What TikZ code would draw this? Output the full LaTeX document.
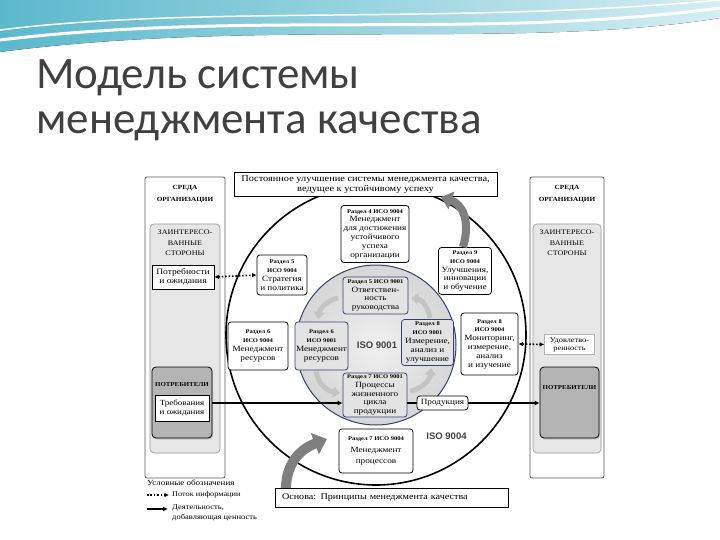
\documentclass[tikz,border=0pt]{standalone}
\usepackage{fontspec}
\setmainfont[FakeStretch=1.15]{Liberation Serif}
\newfontfamily\titlefont{Carlito}
\newfontfamily\isofont{Liberation Sans}
\usetikzlibrary{arrows.meta,shadows}
\definecolor{titlegray}{HTML}{404040}
\definecolor{navyline}{HTML}{36406A}
\definecolor{tealtop}{HTML}{5BB8CC}
\definecolor{teallight}{HTML}{D5EEF3}
\definecolor{colgray}{HTML}{E6E6E6}
\definecolor{consgray}{HTML}{B4B4B4}
\definecolor{cyclegray}{HTML}{C4C4C4}
\definecolor{biggray}{HTML}{7F7F7F}
\newcommand\hd[1]{{\fontsize{5.7}{7}\selectfont\bfseries #1}}
\begin{document}
\begin{tikzpicture}[x=1pt,y=-1pt,
  txt/.style={font=\fontsize{8}{8.8}\selectfont, align=center, inner sep=1pt},
  wbox/.style={txt, draw=black, line width=0.8pt, fill=white, rounded corners=3pt},
  gbox/.style={txt, draw=navyline, line width=0.8pt, fill=gray!22, rounded corners=3pt},
  colbox/.style={draw=gray!70!black, line width=0.8pt, fill=white, rounded corners=2pt},
  stakebox/.style={draw=gray!80, line width=0.6pt, fill=colgray, rounded corners=4pt},
  consbox/.style={draw=black, line width=0.8pt, fill=consgray, rounded corners=4pt,
     drop shadow={shadow xshift=1pt, shadow yshift=-1.5pt, fill=gray!70}},
  hdr/.style={font=\fontsize{6.3}{12}\selectfont\bfseries, align=center, inner sep=0pt},
  caps/.style={font=\fontsize{7}{10.5}\selectfont, align=center, inner sep=0pt},
  infoline/.style={line width=1.6pt, dash pattern=on 1.6pt off 1.8pt},
  infoarr/.style={infoline, {Latex[length=4.5pt,width=4.5pt]}-{Latex[length=4.5pt,width=4.5pt]}},
  infoone/.style={infoline, -{Latex[length=4.5pt,width=4.5pt]}},
  valarr/.style={-{Latex[length=5pt,width=5pt]}, line width=1.6pt},
  cyclearr/.style={draw=cyclegray, line width=5pt, -{Triangle[length=7pt,width=11pt]}},
  isolbl/.style={font=\isofont\bfseries\fontsize{9.5}{10}\selectfont, text=titlegray, inner sep=0pt}
]
\useasboundingbox (0,0) rectangle (720,540);
\fill[white] (0,0) rectangle (720,540);
% top decoration
\fill[left color=tealtop, right color=teallight] (0,0) -- (720,0) -- (720,18)
   .. controls (520,50) and (260,18) .. (0,52) -- cycle;
\draw[white, line width=3pt] (0,40) .. controls (250,10) and (480,40) .. (720,8);
\draw[white, line width=1.5pt] (0,30) .. controls (200,5) and (450,25) .. (720,0);

% title
\node[anchor=base west, font=\titlefont\fontsize{45}{48}\selectfont, text=titlegray, inner sep=0pt] (t1) at (36,89) {Модель системы};
\node[anchor=base west, font=\titlefont\fontsize{45}{48}\selectfont, text=titlegray, inner sep=0pt] (t2) at (36,134) {менеджмента качества};

% columns
\node[colbox, minimum width=80pt, minimum height=301pt] (lcol) at (185,327.5) {};
\node[colbox, minimum width=74pt, minimum height=301pt] (rcol) at (567,327.5) {};
\node[stakebox, minimum width=70pt, minimum height=229pt] (lstake) at (185,338.5) {};
\node[stakebox, minimum width=68pt, minimum height=229pt] (rstake) at (567,338.5) {};
\node[hdr] (lsreda) at (185,194) {СРЕДА\\ОРГАНИЗАЦИИ};
\node[hdr] (rsreda) at (567,194) {СРЕДА\\ОРГАНИЗАЦИИ};
\node[caps] (lst) at (185,243) {ЗАИНТЕРЕСО-\\ВАННЫЕ\\СТОРОНЫ};
\node[caps] (rst) at (567,243) {ЗАИНТЕРЕСО-\\ВАННЫЕ\\СТОРОНЫ};
\node[wbox, rounded corners=0pt, line width=0.6pt, minimum width=62pt, minimum height=24pt, font=\fontsize{8.3}{9.3}\selectfont] (needs) at (183,277) {Потребности\\и ожидания};
\node[consbox, minimum width=60pt, minimum height=71pt] (lcons) at (182,402.5) {};
\node[hdr, font=\fontsize{6}{8}\selectfont\bfseries] (lconst) at (182,385) {ПОТРЕБИТЕЛИ};
\node[wbox, rounded corners=0pt, line width=0.6pt, minimum width=54pt, minimum height=26pt, font=\fontsize{7.8}{9}\selectfont] (req) at (182,408) {Требования\\и ожидания};
\node[wbox, rounded corners=0pt, line width=0.6pt, draw=gray!60, minimum width=50pt, minimum height=20pt, font=\fontsize{7.2}{8}\selectfont] (sat) at (569.5,344.5) {Удовлетво-\\ренность};
\node[consbox, minimum width=59pt, minimum height=71pt] (rcons) at (569.5,402.5) {};
\node[hdr, font=\fontsize{6}{8}\selectfont\bfseries] (rconst) at (569.5,388) {ПОТРЕБИТЕЛИ};

% circles
\node[circle, draw=black, line width=1.6pt, minimum size=300pt, inner sep=0pt] (outer) at (376,335) {};
\node[circle, draw=navyline, line width=1pt, inner color=gray!12, outer color=gray!32, minimum size=160pt, inner sep=0pt] (inner) at (376,345) {};

% inner cycle arrows
\draw[cyclearr] (338,298) .. controls (328,300) and (320,308) .. (318,319);
\draw[cyclearr] (316,371) .. controls (318,384) and (327,391) .. (340,393);
\draw[cyclearr] (410,391) .. controls (422,389) and (430,380) .. (431,368);
\draw[cyclearr] (430,318) .. controls (428,305) and (420,299) .. (411,298);

% big gray arrow from the base
\draw[draw=biggray, line width=10pt, -{Triangle[length=13pt,width=22pt]}] (286,492) .. controls (285,466) and (298,450) .. (327,439);

% top & base boxes
\node[wbox, rounded corners=0pt, line width=1pt, minimum width=263pt, minimum height=24pt, font=\fontsize{9}{10}\selectfont] (top) at (365.5,185) {Постоянное улучшение системы менеджмента качества,\\ведущее к устойчивому успеху};
\node[wbox, rounded corners=0pt, line width=1pt, minimum width=233pt, minimum height=19pt, text width=219pt, align=left, inner xsep=7pt, font=\fontsize{8.8}{10}\selectfont] (base) at (391.5,497.5) {Основа: Принципы менеджмента качества};

% ISO 9004 boxes
\node[wbox, minimum width=68pt, minimum height=57pt] (r4) at (375,234) {\hd{Раздел 4 ИСО 9004}\\Менеджмент\\для достижения\\устойчивого\\успеха\\организации};
\node[wbox, minimum width=50pt, minimum height=40pt] (r5b) at (282,275) {\hd{Раздел 5}\\\hd{ИСО 9004}\\Стратегия\\и политика};
\node[wbox, minimum width=53pt, minimum height=47pt] (r9) at (465,271) {\hd{Раздел 9}\\\hd{ИСО 9004}\\Улучшения,\\инновации\\и обучение};
\node[wbox, minimum width=60pt, minimum height=48pt] (r6b) at (258,346) {\hd{Раздел 6}\\\hd{ИСО 9004}\\Менеджмент\\ресурсов};
\node[wbox, minimum width=57pt, minimum height=62pt] (r8b) at (489.5,344) {\hd{Раздел 8}\\\hd{ИСО 9004}\\Мониторинг,\\измерение,\\анализ\\и изучение};
\node[wbox, minimum width=74pt, minimum height=44pt] (r7b) at (376,451) {\hd{Раздел 7 ИСО 9004}\\[3pt]Менеджмент\\[2pt]процессов};

% ISO 9001 boxes
\node[gbox, minimum width=65pt, minimum height=37pt] (r5a) at (375.5,295.5) {\hd{Раздел 5 ИСО 9001}\\Ответствен-\\ность\\руководства};
\node[gbox, minimum width=53pt, minimum height=48pt] (r6a) at (321.5,346) {\hd{Раздел 6}\\\hd{ИСО 9001}\\Менеджмент\\ресурсов};
\node[gbox, minimum width=52pt, minimum height=46pt] (r8a) at (427.5,342.5) {\hd{Раздел 8}\\\hd{ИСО 9001}\\Измерение,\\анализ и\\улучшение};
\node[gbox, minimum width=64pt, minimum height=44pt] (r7a) at (375,395) {\hd{Раздел 7 ИСО 9001}\\Процессы\\жизненного\\цикла\\продукции};
\node[wbox, minimum width=51pt, minimum height=14pt] (prod) at (442.5,403) {Продукция};

\node[isolbl] (iso1) at (377,345) {ISO 9001};
\node[isolbl] (iso4) at (446.5,436) {ISO 9004};

% big gray arrow to the top
\draw[draw=biggray, line width=8pt, -{Triangle[length=11pt,width=18pt]}] (463,247) .. controls (471,220) and (462,204) .. (441,197);

% connectors
\draw[infoarr] (needs.east) -- (r5b.west);
\draw[infoarr] (r8b.east) -- (sat.west);
\coordinate (lcout) at (lcons.east |- prod.west);
\coordinate (r7in) at (r7a.west |- prod.west);
\coordinate (r7out) at (r7a.east |- prod.west);
\coordinate (rcin) at (rcons.west |- prod.east);
\draw[valarr] (lcout) -- (r7in);
\draw[line width=1.6pt] (r7out) -- (prod.west);
\draw[valarr] (prod.east) -- (rcin);

% legend
\node[anchor=west, font=\fontsize{7.8}{8}\selectfont, inner sep=0pt] (lg0) at (147,483) {Условные обозначения};
\coordinate (lga) at (147,495);
\coordinate (lgb) at (169,495);
\draw[infoone] (lga) -- (lgb);
\node[anchor=west, font=\fontsize{7.2}{8}\selectfont, inner sep=0pt] (lg1) at (172,495) {Поток информации};
\coordinate (lgc) at (147,509);
\coordinate (lgd) at (168,509);
\draw[valarr] (lgc) -- (lgd);
\node[anchor=north west, align=left, font=\fontsize{7.4}{10}\selectfont, inner sep=0pt] (lg2) at (172,504) {Деятельность,\\добавляющая ценность};
\end{tikzpicture}
\end{document}
